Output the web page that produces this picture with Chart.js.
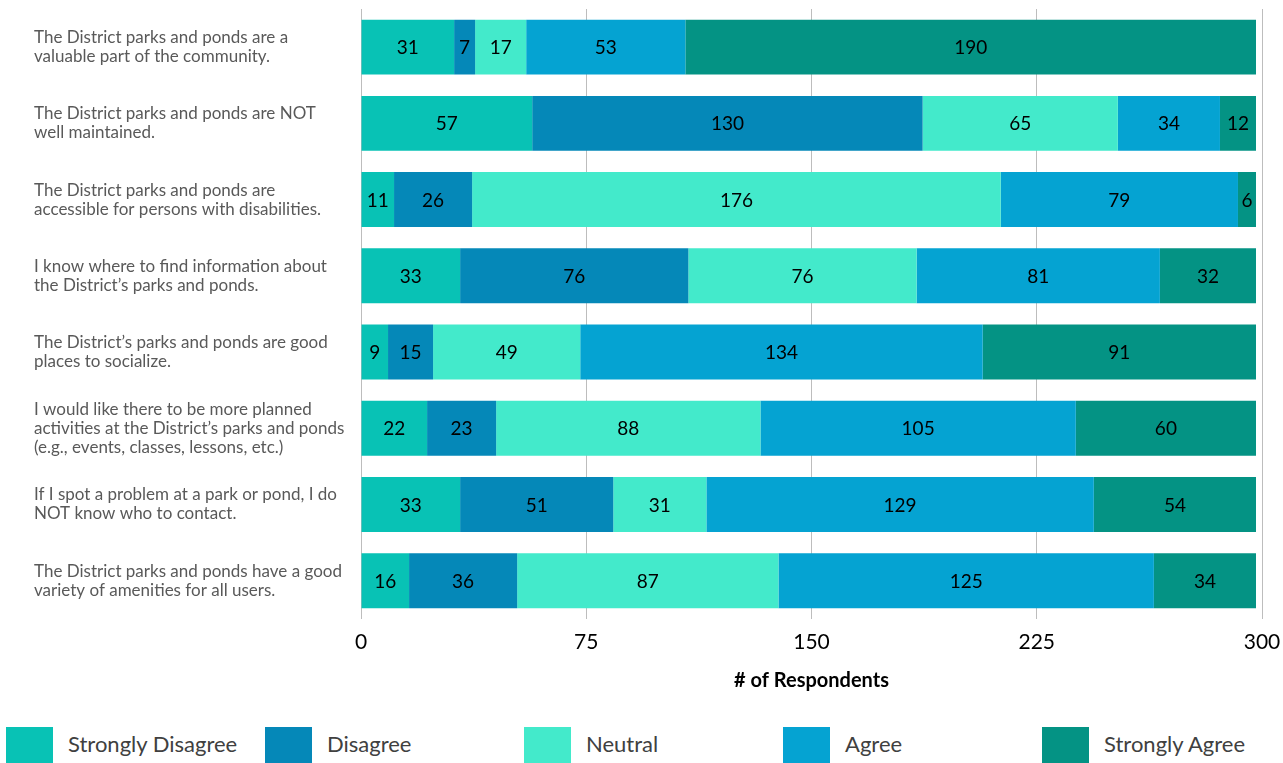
<!DOCTYPE html>
<html>
<head>
<meta charset="utf-8">
<script src="https://cdn.jsdelivr.net/npm/chart.js@4.4.1/dist/chart.umd.min.js"></script>
<style>
  html, body { margin: 0; padding: 0; background: #ffffff; }
  body { width: 1283px; height: 763px; position: relative; overflow: hidden; font-family: Lato, "Noto Sans", sans-serif; }
  #wrap { position: absolute; left: 0; top: 0; width: 1283px; height: 693px; }
  #legend { position: absolute; left: 0; top: 727px; width: 1283px; height: 36px; }
  .item { position: absolute; top: 0; height: 36px; display: flex; align-items: center; }
  .box { width: 47px; height: 36px; margin-right: 15px; }
  .lbl { font-size: 22px; color: #404040; white-space: nowrap; position: relative; top: -2px; }
</style>
</head>
<body>
<div id="wrap"><canvas id="c"></canvas></div>
<div id="legend"></div>
<script>
const categories = [
  ["The District parks and ponds are a", "valuable part of the community."],
  ["The District parks and ponds are NOT", "well maintained."],
  ["The District parks and ponds are", "accessible for persons with disabilities."],
  ["I know where to find information about", "the District\u2019s parks and ponds."],
  ["The District\u2019s parks and ponds are good", "places to socialize."],
  ["I would like there to be more planned", "activities at the District\u2019s parks and ponds", "(e.g., events, classes, lessons, etc.)"],
  ["If I spot a problem at a park or pond, I do", "NOT know who to contact."],
  ["The District parks and ponds have a good", "variety of amenities for all users."]
];
const seriesNames = ["Strongly Disagree", "Disagree", "Neutral", "Agree", "Strongly Agree"];
const stronglyDisagree = [31, 57, 11, 33, 9, 22, 33, 16];
const disagree         = [7, 130, 26, 76, 15, 23, 51, 36];
const neutral          = [17, 65, 176, 76, 49, 88, 31, 87];
const agree            = [53, 34, 79, 81, 134, 105, 129, 125];
const stronglyAgree    = [190, 12, 6, 32, 91, 60, 54, 34];
const xTicks = [0, 75, 150, 225, 300];
const colors = ["#08C2B5", "#0588B8", "#43EACB", "#05A3D2", "#049384"];

const seriesValues = [stronglyDisagree, disagree, neutral, agree, stronglyAgree];

const valueLabels = {
  id: 'valueLabels',
  afterDatasetsDraw(chart) {
    const ctx = chart.ctx;
    ctx.save();
    ctx.font = '19px Lato, "Noto Sans", sans-serif';
    ctx.fillStyle = '#000000';
    ctx.textAlign = 'center';
    ctx.textBaseline = 'middle';
    chart.data.datasets.forEach((ds, di) => {
      const meta = chart.getDatasetMeta(di);
      meta.data.forEach((el, i) => {
        const v = ds.data[i];
        if (!v) return;
        const cx = (el.x + el.base) / 2;
        ctx.fillText(String(v), cx, el.y + 1);
      });
    });
    ctx.restore();
  }
};

const chart = new Chart(document.getElementById('c'), {
  type: 'bar',
  data: {
    labels: categories,
    datasets: seriesNames.map((n, i) => ({
      label: n,
      data: seriesValues[i],
      backgroundColor: colors[i],
      borderWidth: 0,
      barPercentage: 0.72,
      categoryPercentage: 1.0
    }))
  },
  options: {
    indexAxis: 'y',
    responsive: true,
    maintainAspectRatio: false,
    animation: false,
    layout: { padding: { left: 34, right: 21, top: 9, bottom: 0 } },
    plugins: {
      legend: { display: false },
      tooltip: { enabled: false }
    },
    scales: {
      x: {
        stacked: true,
        min: 0,
        max: 300,
        afterBuildTicks(scale) { scale.ticks = xTicks.map(v => ({ value: v })); },
        afterFit(scale) { scale.paddingLeft = 0; scale.paddingRight = 0; },
        grid: { color: '#bdbdbd', lineWidth: 1, drawTicks: false },
        border: { display: false },
        ticks: {
          color: '#000000',
          font: { family: 'Lato, "Noto Sans", sans-serif', size: 21 },
          padding: 11,
          maxRotation: 0
        },
        title: {
          display: true,
          text: '# of Respondents',
          color: '#000000',
          font: { family: 'Lato, "Noto Sans", sans-serif', size: 20, weight: 'bold' },
          padding: { top: 3, bottom: 0 }
        }
      },
      y: {
        stacked: true,
        grid: { display: false, drawTicks: false },
        border: { display: true, color: '#bdbdbd', width: 1 },
        afterFit(scale) { scale.width = 327; scale.paddingTop = 0; scale.paddingBottom = 0; },
        ticks: {
          color: '#595959',
          crossAlign: 'far',
          padding: 16,
          font: { family: 'Lato, "Noto Sans", sans-serif', size: 17, lineHeight: 1.12 }
        }
      }
    }
  },
  plugins: [valueLabels]
});

// legend built from the chart's datasets
const legendEl = document.getElementById('legend');
chart.data.datasets.forEach((ds, i) => {
  const item = document.createElement('div');
  item.className = 'item';
  item.style.left = (6 + i * 259) + 'px';
  const box = document.createElement('div');
  box.className = 'box';
  box.style.background = ds.backgroundColor;
  const lbl = document.createElement('span');
  lbl.className = 'lbl';
  lbl.textContent = ds.label;
  item.appendChild(box);
  item.appendChild(lbl);
  legendEl.appendChild(item);
});
</script>
</body>
</html>
